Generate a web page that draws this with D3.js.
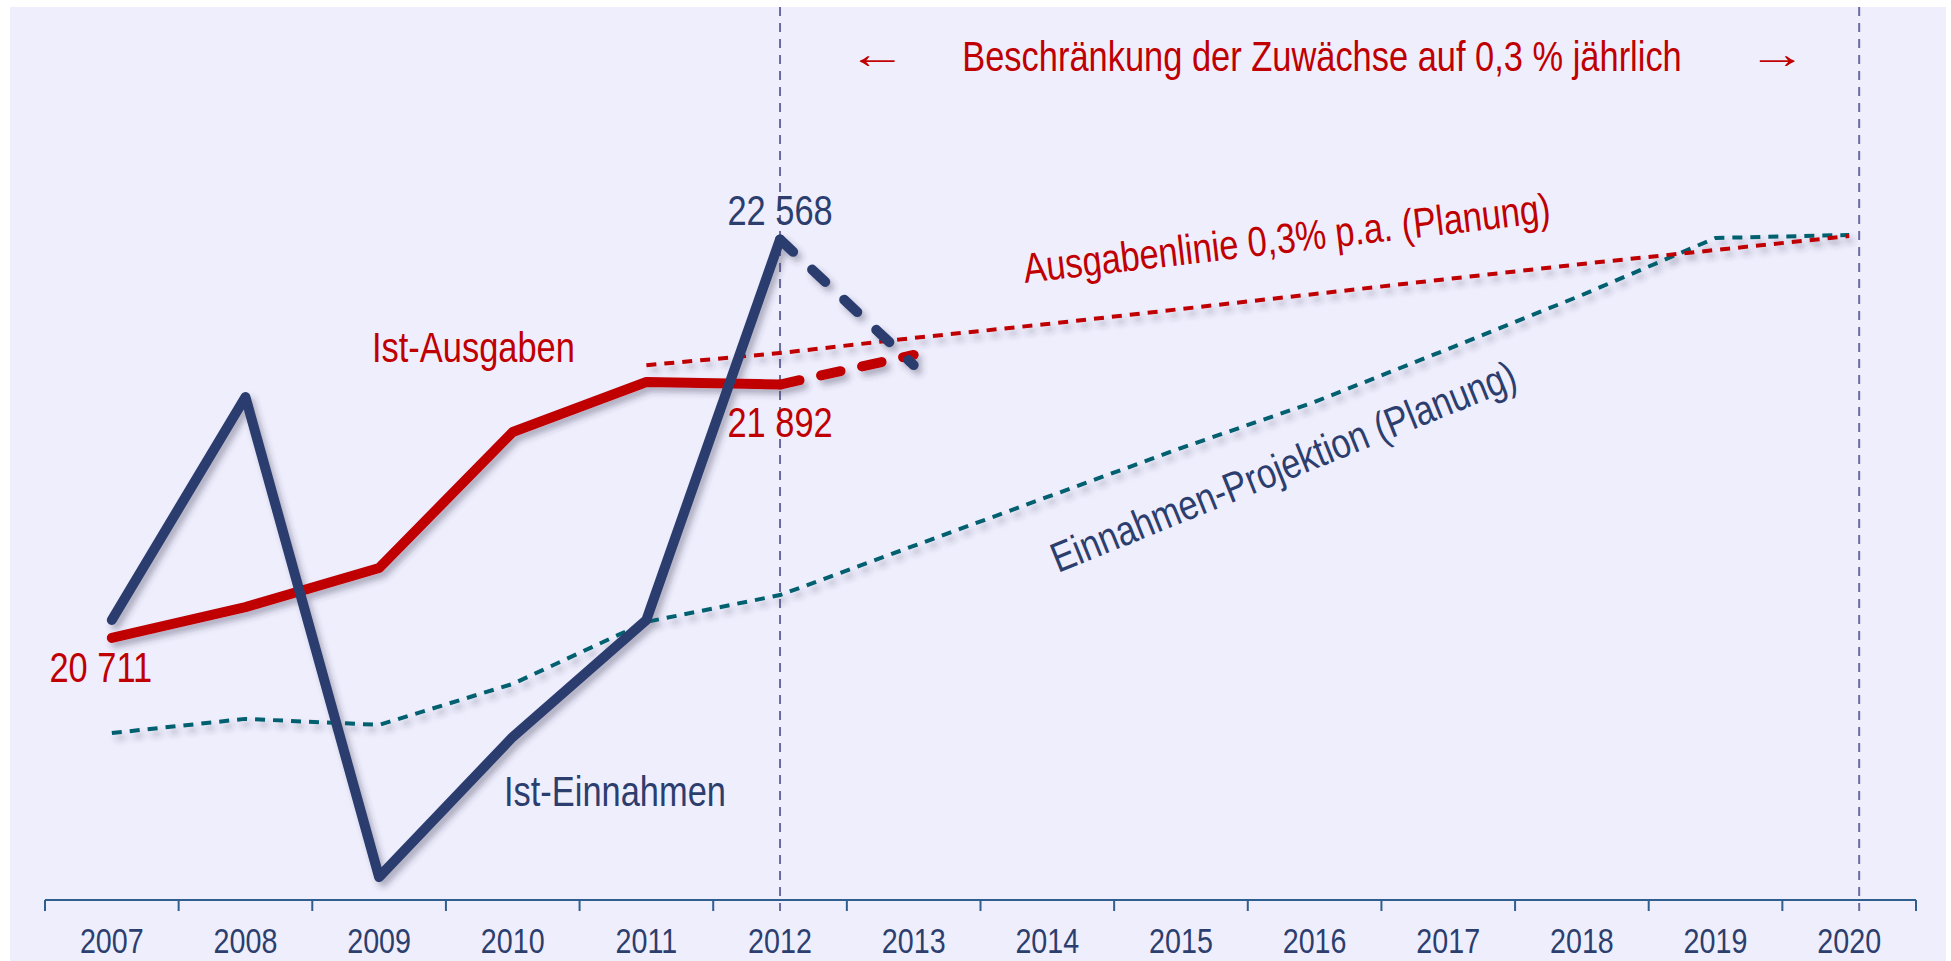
<!DOCTYPE html>
<html>
<head>
<meta charset="utf-8">
<script src="https://cdn.jsdelivr.net/npm/d3@7"></script>
<style>
  body { margin: 0; background: #fff; }
  text { font-family: "Liberation Sans", Arial, sans-serif; }
</style>
</head>
<body>
<svg id="chart"></svg>
<script>
// years on the axis
const years = ["2007","2008","2009","2010","2011","2012","2013","2014","2015","2016","2017","2018","2019","2020"];

// Ist-Ausgaben (solid up to 2012, dashed 2012-2013)
const istAusgaben = [20711, 20855, 21037, 21671, 21904, 21892];
const istAusgabenPlan = [21892, 22030];
// Ist-Einnahmen
const istEinnahmen = [20795, 21834, 19597, 20250, 20795, 22568];
const istEinnahmenPlan = [22568, 21983];
// Einnahmen-Projektion (Planung), 2007-2020
const projektion = [20268, 20334, 20306, 20497, 20786, 20911, 21140, 21368, 21596, 21811, 22058, 22309, 22575, 22589];
// Ausgabenlinie 0,3% p.a. (Planung), 2011-2020
const ausgabenLinie = [21982, 22039, 22109, 22174, 22244, 22314, 22384, 22454, 22519, 22584];

const W = 1951, H = 961;
const red = "#c00000", navy = "#2c3e6e", teal = "#00606f";
const NARROW = 0.82; // Arial Narrow look, made from Liberation Sans

const svg = d3.select("#chart").attr("width", W).attr("height", H);

// drop shadow for the lines
const defs = svg.append("defs");
defs.append("filter").attr("id", "shadow")
  .attr("x", "-10%").attr("y", "-10%").attr("width", "130%").attr("height", "130%")
  .append("feDropShadow")
  .attr("dx", 4).attr("dy", 5).attr("stdDeviation", 3)
  .attr("flood-color", "#303050").attr("flood-opacity", 0.35);

// panel background
svg.append("rect")
  .attr("x", 10).attr("y", 7).attr("width", 1936).attr("height", H - 7)
  .attr("fill", "#efeefd");

const x = d3.scaleBand().domain(years).range([45, 1916]);
const y = d3.scaleLinear().domain([19490, 23218]).range([900, 100]);
const cx = d => x(d) + x.bandwidth() / 2;

// vertical dashed markers at 2012 and 2020
svg.append("g").selectAll("line")
  .data(["2012", "2020"])
  .join("line")
  .attr("x1", d => cx(d) + (d === "2020" ? 10 : 0))
  .attr("x2", d => cx(d) + (d === "2020" ? 10 : 0))
  .attr("y1", 7).attr("y2", 911)
  .attr("stroke", "#6c6c9c").attr("stroke-width", 2)
  .attr("stroke-dasharray", "9,7");

// x axis: baseline, tick marks at band boundaries, centered labels
const axisY = y.range()[0];
const ax = svg.append("g").attr("transform", `translate(0,${axisY})`);
ax.append("line")
  .attr("x1", x.range()[0]).attr("x2", x.range()[1])
  .attr("stroke", "#2f5f8f").attr("stroke-width", 2);
ax.selectAll("line.tick")
  .data(years.map(d => x(d)).concat([x.range()[1]]))
  .join("line").attr("class", "tick")
  .attr("x1", d => d).attr("x2", d => d)
  .attr("y1", 0).attr("y2", 11)
  .attr("stroke", "#2f5f8f").attr("stroke-width", 2);
ax.append("g")
  .call(d3.axisBottom(x).tickSize(0).tickPadding(28))
  .call(g => g.select(".domain").remove())
  .call(g => g.selectAll("text")
    .attr("font-size", 35).attr("fill", navy)
    .attr("transform", `scale(${NARROW},1)`)
    .style("font-family", "'Liberation Sans', Arial, sans-serif"));

const line = d3.line().x(d => cx(d[0])).y(d => y(d[1]));
const pairs = (yrs, vals) => vals.map((v, i) => [yrs[i], v]);

const lines = svg.append("g").attr("filter", "url(#shadow)")
  .attr("fill", "none").attr("stroke-linecap", "round").attr("stroke-linejoin", "round");

// Einnahmen-Projektion
lines.append("path")
  .attr("d", line(pairs(years, projektion)))
  .attr("stroke", teal).attr("stroke-width", 4)
  .attr("stroke-dasharray", "10,8").attr("stroke-linecap", "butt");

// Ausgabenlinie 0,3 %
lines.append("path")
  .attr("d", line(pairs(years.slice(4), ausgabenLinie)))
  .attr("stroke", red).attr("stroke-width", 4)
  .attr("stroke-dasharray", "10,8").attr("stroke-linecap", "butt");

// Ist-Ausgaben
lines.append("path")
  .attr("d", line(pairs(years, istAusgaben)))
  .attr("stroke", red).attr("stroke-width", 10);
lines.append("path")
  .attr("d", line(pairs(years.slice(5), istAusgabenPlan)))
  .attr("stroke", red).attr("stroke-width", 10)
  .attr("stroke-dasharray", "20,22");

// Ist-Einnahmen
lines.append("path")
  .attr("d", line(pairs(years, istEinnahmen)))
  .attr("stroke", navy).attr("stroke-width", 10);
lines.append("path")
  .attr("d", line(pairs(years.slice(5), istEinnahmenPlan)))
  .attr("stroke", navy).attr("stroke-width", 10)
  .attr("stroke-dasharray", "18,26");

// narrow text helper
const labels = svg.append("g").attr("font-size", 42);
function label(tx, ty, str, color, opts = {}) {
  return labels.append("text")
    .attr("transform", `translate(${tx},${ty}) rotate(${opts.rotate || 0}) scale(${opts.sx || NARROW},1)`)
    .attr("text-anchor", opts.anchor || "start")
    .attr("fill", color)
    .text(str);
}

// value labels
label(cx("2012"), y(istEinnahmen[5]) - 14, "22 568", navy, { anchor: "middle" });
label(cx("2012"), y(istAusgaben[5]) + 52, "21 892", red, { anchor: "middle" });
label(cx("2007") - 11, y(istAusgaben[0]) + 44, "20 711", red, { anchor: "middle" });

// series names
label(372, 362, "Ist-Ausgaben", red);
label(504, 806, "Ist-Einnahmen", navy);
label(1025, 283, "Ausgabenlinie 0,3% p.a. (Planung)", red, { rotate: -6.6 });
label(1058, 573, "Einnahmen-Projektion (Planung)", navy, { rotate: -22 });

// header band
label(1322, 71, "Beschränkung der Zuwächse auf 0,3 % jährlich", red, { anchor: "middle" });
label(877, 68, "←", red, { anchor: "middle", sx: 1.4 });
label(1777, 68, "→", red, { anchor: "middle", sx: 1.4 });
</script>
</body>
</html>
